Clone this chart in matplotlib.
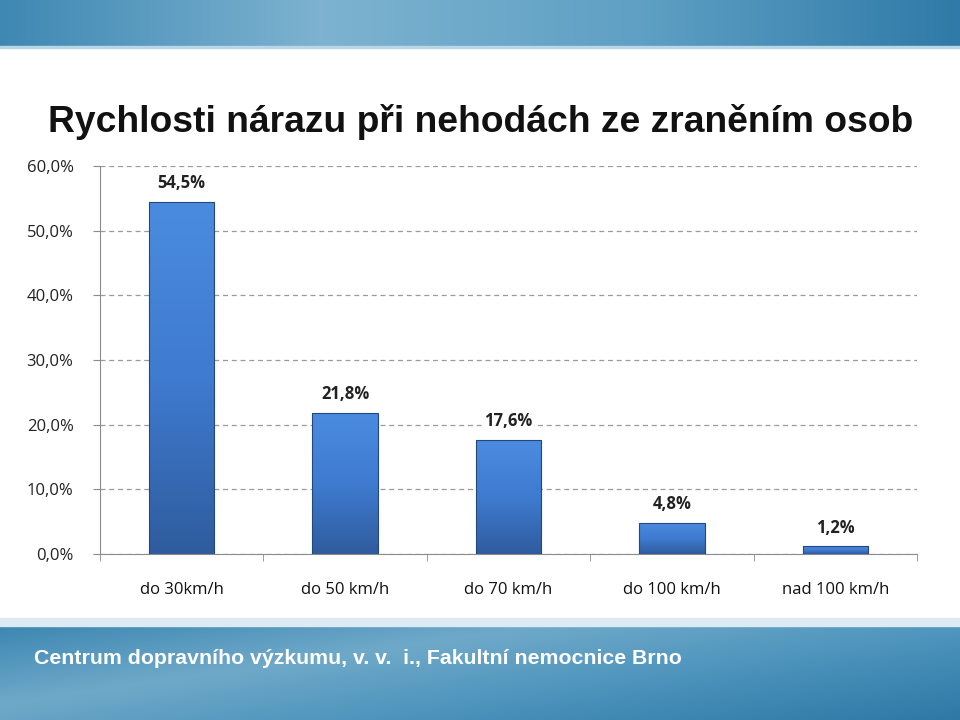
import numpy as np
import matplotlib.pyplot as plt
from matplotlib.colors import LinearSegmentedColormap

# --------- data ---------
categories = ["do 30km/h", "do 50 km/h", "do 70 km/h", "do 100 km/h", "nad 100 km/h"]
values = [54.5, 21.8, 17.6, 4.8, 1.2]
value_labels = ["54,5%", "21,8%", "17,6%", "4,8%", "1,2%"]
yticks = [0, 10, 20, 30, 40, 50, 60]
ytick_labels = ["0,0%", "10,0%", "20,0%", "30,0%", "40,0%", "50,0%", "60,0%"]

title = "Rychlosti nárazu při nehodách ze zraněním osob"
footer = "Centrum dopravního výzkumu, v. v.  i., Fakultní nemocnice Brno"

# --------- figure + background bands ---------
fig = plt.figure(figsize=(9.6, 7.2), dpi=100)
W, H = 960, 720

bg = fig.add_axes([0, 0, 1, 1])
bg.set_xlim(0, W)
bg.set_ylim(H, 0)
bg.axis("off")

band_cmap = LinearSegmentedColormap.from_list(
    "band", ["#3f88b3", "#7db3d0", "#5fa0c4", "#2f7aa8"])
grad = np.linspace(0, 1, 256).reshape(1, -1)
# top banner
bg.imshow(grad, cmap=band_cmap, extent=[0, W, 46, 0], aspect="auto")
bg.fill_between([0, W], 46, 48, color="#b9d6e6")
# bottom band
vgrad = np.linspace(0, 1, 128).reshape(-1, 1) * 0.4 + grad * 0.6
bot_cmap = LinearSegmentedColormap.from_list(
    "bot", ["#3d87b2", "#6fa9c9", "#4a92bb", "#2e78a6"])
bg.imshow(vgrad, cmap=bot_cmap, extent=[0, W, H, 626], aspect="auto")
bg.fill_between([0, W], 618, 626, color="#dcebf3")

fig.text(48 / W, 1 - 122 / H, title, fontsize=26.8, fontweight="bold",
         family="Liberation Sans", color="#111111", va="center", ha="left")
fig.text(34 / W, 1 - 658 / H, footer, fontsize=15.3, fontweight="bold",
         family="Liberation Sans", color="white", va="center", ha="left")

# --------- chart ---------
ax = fig.add_axes([100 / W, 1 - 554 / H, 817 / W, 388 / H])
ax.set_facecolor("none")
x = np.arange(len(categories))
bars = ax.bar(x, values, width=0.4, color="#3b73c4",
              edgecolor="#24487c", linewidth=0.8, zorder=3)

bar_cmap = LinearSegmentedColormap.from_list("bar", ["#2f5c9e", "#3f7bd0", "#4a8be0"])
for b in bars:
    x0, y0 = b.get_x(), b.get_y()
    im = ax.imshow(np.linspace(0, 1, 100).reshape(-1, 1), cmap=bar_cmap,
                   extent=[x0, x0 + b.get_width(), y0, y0 + b.get_height()],
                   origin="lower", aspect="auto", zorder=3)
    im.set_clip_path(b)
    b.set_facecolor("none")
    b.set_zorder(4)

for xi, v, lab in zip(x, values, value_labels):
    ax.text(xi, v + 1.5, lab, ha="center", va="bottom", fontsize=12,
            fontweight="bold", family="Open Sans", color="#222222", zorder=5,
            bbox=dict(facecolor="white", edgecolor="none", pad=1))

ax.set_xlim(-0.5, len(categories) - 0.5)
ax.set_ylim(0, 60)
ax.set_yticks(yticks)
ax.set_yticklabels(ytick_labels, family="Open Sans", fontsize=12, color="#222222")
ax.set_xticks(x)
ax.set_xticklabels(categories, family="Open Sans", fontsize=12, color="#111111")
ax.set_xticks(np.arange(-0.5, len(categories)), minor=True)
ax.tick_params(axis="x", which="major", length=0, pad=20)
ax.tick_params(axis="x", which="minor", length=5, color="#8c8c8c")
ax.tick_params(axis="y", length=5, color="#8c8c8c", pad=14)

ax.grid(axis="y", linestyle=(0, (4, 3)), color="#9a9a9a", linewidth=0.9, zorder=0)
for s in ["top", "right"]:
    ax.spines[s].set_visible(False)
for s in ["left", "bottom"]:
    ax.spines[s].set_color("#8c8c8c")

fig.savefig("out.png", dpi=100)
